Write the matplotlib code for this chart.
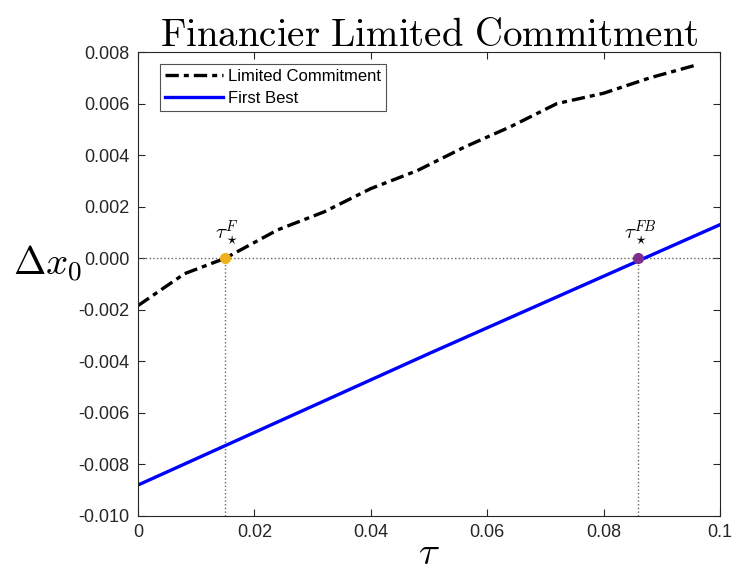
import numpy as np
import matplotlib.pyplot as plt

plt.rcParams['font.family'] = ['Liberation Sans', 'DejaVu Sans']
plt.rcParams['mathtext.fontset'] = 'cm'

# Limited Commitment
tau_lc = [0.0, 0.008, 0.015, 0.024, 0.032, 0.040, 0.048, 0.056, 0.064, 0.072, 0.080, 0.088, 0.096]
dx_lc = [-0.00184, -0.0006, 0.0, 0.0011, 0.0018, 0.0027, 0.0034, 0.0043, 0.0051, 0.0060, 0.0064, 0.0070, 0.0075]

# First Best
tau_fb = [0.0, 0.05, 0.1]
dx_fb = [-0.0088, -0.0037, 0.0013]

tau_star_f = 0.015
tau_star_fb = 0.086

fig = plt.figure(figsize=(7.32, 5.76), dpi=100)
ax = fig.add_axes([0.1885, 0.1042, 0.795, 0.8055])

ax.axhline(0, color='0.4', linestyle=':', linewidth=1)
ax.plot([tau_star_f, tau_star_f], [-0.010, 0], color='0.4', linestyle=':', linewidth=1)
ax.plot([tau_star_fb, tau_star_fb], [-0.010, 0], color='0.4', linestyle=':', linewidth=1)

ax.plot(tau_lc, dx_lc, color='black', linestyle=(0, (4, 1.5, 1.5, 1.5)), linewidth=2.4,
        label='Limited Commitment')
ax.plot(tau_fb, dx_fb, color='#0000ff', linestyle='-', linewidth=2.4, label='First Best')

ax.plot(tau_star_f, 0, 'o', color='#EDB120', markersize=7, zorder=5)
ax.plot(tau_star_fb, 0, 'o', color='#7E2F8E', markersize=7, zorder=5)
ax.text(tau_star_f + 0.0002, 0.0004, r'$\tau_\star^F$', fontsize=15, ha='center', va='bottom')
ax.text(tau_star_fb + 0.0003, 0.0004, r'$\tau_\star^{FB}$', fontsize=15, ha='center', va='bottom')

ax.set_xlim(0, 0.1)
ax.set_ylim(-0.010, 0.008)
ax.set_xticks([0, 0.02, 0.04, 0.06, 0.08, 0.1])
ax.set_xticklabels(['0', '0.02', '0.04', '0.06', '0.08', '0.1'])
yt = np.arange(-0.010, 0.0081, 0.002)
ax.set_yticks(yt)
ax.set_yticklabels([f'{v:.3f}' if abs(v) > 1e-9 else '0.000' for v in yt])
ax.tick_params(direction='in', top=True, right=True, labelsize=13, colors='0.15', length=5, pad=6)
for s in ax.spines.values():
    s.set_color('0.15')

ax.set_title(r'$\mathrm{Financier\ Limited\ Commitment}$', fontsize=28, pad=4)
ax.set_xlabel(r'$\tau$', fontsize=28, labelpad=-4)
ax.set_ylabel(r'$\Delta x_0$', fontsize=28, rotation=0, labelpad=22)

leg = ax.legend(loc='upper left', bbox_to_anchor=(0.038, 0.975), fontsize=12, frameon=True,
                fancybox=False, edgecolor='0.15', borderpad=0.3, handlelength=3.5,
                handletextpad=0.3, labelspacing=0.45, borderaxespad=0)
leg.get_frame().set_linewidth(0.8)

plt.savefig('out.png', dpi=100)
